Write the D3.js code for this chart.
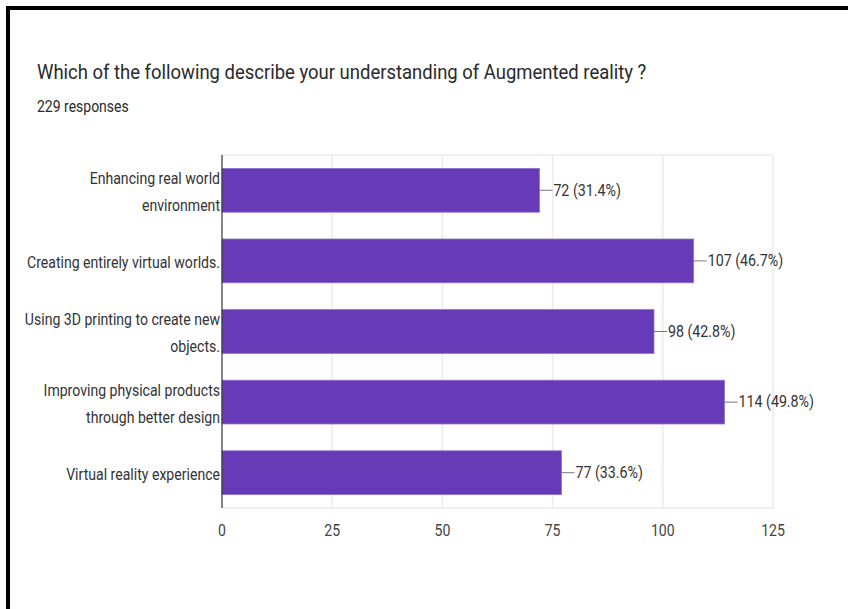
<!DOCTYPE html>
<html>
<head>
<meta charset="utf-8">
<script src="https://cdn.jsdelivr.net/npm/d3@7"></script>
<style>
  html, body { margin: 0; padding: 0; background: #fff; }
  svg { display: block; }
  text { font-family: Roboto, "Noto Sans", sans-serif; }
</style>
</head>
<body>
<svg id="chart" width="848" height="609"></svg>
<script>
const title = "Which of the following describe your understanding of Augmented reality ?";
const subtitle = "229 responses";
const categories = [
  "Enhancing real world|environment",
  "Creating entirely virtual worlds.",
  "Using 3D printing to create new|objects.",
  "Improving physical products|through better design",
  "Virtual reality experience"
];
const values = [72, 107, 98, 114, 77];
const totalResponses = 229;
const xTicks = [0, 25, 50, 75, 100, 125];

const W = 848, H = 609;
const K = 0.88; // horizontal condensing of text
const plot = { left: 222, right: 773, top: 155, bottom: 508 };

const svg = d3.select("#chart");
svg.append("rect").attr("width", W).attr("height", H).attr("fill", "#fff");

// black frame (top and left)
svg.append("rect").attr("x", 6).attr("y", 6).attr("width", W - 6).attr("height", 4).attr("fill", "#000");
svg.append("rect").attr("x", 6).attr("y", 6).attr("width", 4).attr("height", H - 6).attr("fill", "#000");

function ctext(sel, x, y, str, opts) {
  return sel.append("text")
    .attr("transform", `translate(${x},${y}) scale(${opts.k || K},1)`)
    .attr("text-anchor", opts.anchor || "start")
    .attr("dominant-baseline", "central")
    .attr("font-size", opts.size)
    .attr("fill", opts.fill || "#333")
    .text(str);
}

ctext(svg, 37, 72, title, { size: 21, fill: "#2a2a2a" });
ctext(svg, 37, 107, subtitle, { size: 16, k: 0.875, fill: "#2a2a2a" });

const x = d3.scaleLinear().domain([0, 125]).range([plot.left, plot.right]);
const y = d3.scaleBand().domain(d3.range(categories.length)).range([plot.top, plot.bottom]).paddingInner(0.38).paddingOuter(0.19);

// gridlines
const g = svg.append("g");
g.selectAll("line.grid").data(xTicks.filter(d => d > 0)).join("line")
  .attr("x1", d => x(d)).attr("x2", d => x(d))
  .attr("y1", plot.top).attr("y2", plot.bottom)
  .attr("stroke", "#ebebeb").attr("stroke-width", 1.5);
[plot.top, plot.bottom].forEach(yy => {
  g.append("line").attr("x1", plot.left).attr("x2", plot.right)
    .attr("y1", yy).attr("y2", yy).attr("stroke", "#ebebeb").attr("stroke-width", 1.5);
});

// bars
svg.selectAll("rect.bar").data(values).join("rect")
  .attr("class", "bar")
  .attr("x", x(0))
  .attr("y", (d, i) => y(i))
  .attr("width", d => x(d) - x(0))
  .attr("height", y.bandwidth())
  .attr("fill", "#673ab7")
  .attr("stroke", "#8f6fd0").attr("stroke-width", 0.8);

// zero axis
svg.append("line").attr("x1", x(0)).attr("x2", x(0))
  .attr("y1", plot.top).attr("y2", plot.bottom)
  .attr("stroke", "#333").attr("stroke-width", 1.2);

// value labels with leader lines
values.forEach((v, i) => {
  const cy = y(i) + y.bandwidth() / 2;
  svg.append("line").attr("x1", x(v)).attr("x2", x(v) + 13)
    .attr("y1", cy).attr("y2", cy).attr("stroke", "#777").attr("stroke-width", 1);
  const pct = (v / totalResponses * 100).toFixed(1);
  ctext(svg, x(v) + 14, cy, `${v} (${pct}%)`, { size: 16, k: 0.89, fill: "#333" });
});

// category labels
categories.forEach((c, i) => {
  const lines = c.split("|");
  const cy = y(i) + y.bandwidth() / 2;
  const lh = 27;
  lines.forEach((ln, j) => {
    const yy = cy + (j - (lines.length - 1) / 2) * lh + 2;
    ctext(svg, plot.left - 2, yy, ln, { size: 16, fill: "#333", anchor: "end" });
  });
});

// x tick labels
xTicks.forEach(t => {
  ctext(svg, x(t), 531, String(t), { size: 16, fill: "#444", anchor: "middle" });
});
</script>
</body>
</html>
